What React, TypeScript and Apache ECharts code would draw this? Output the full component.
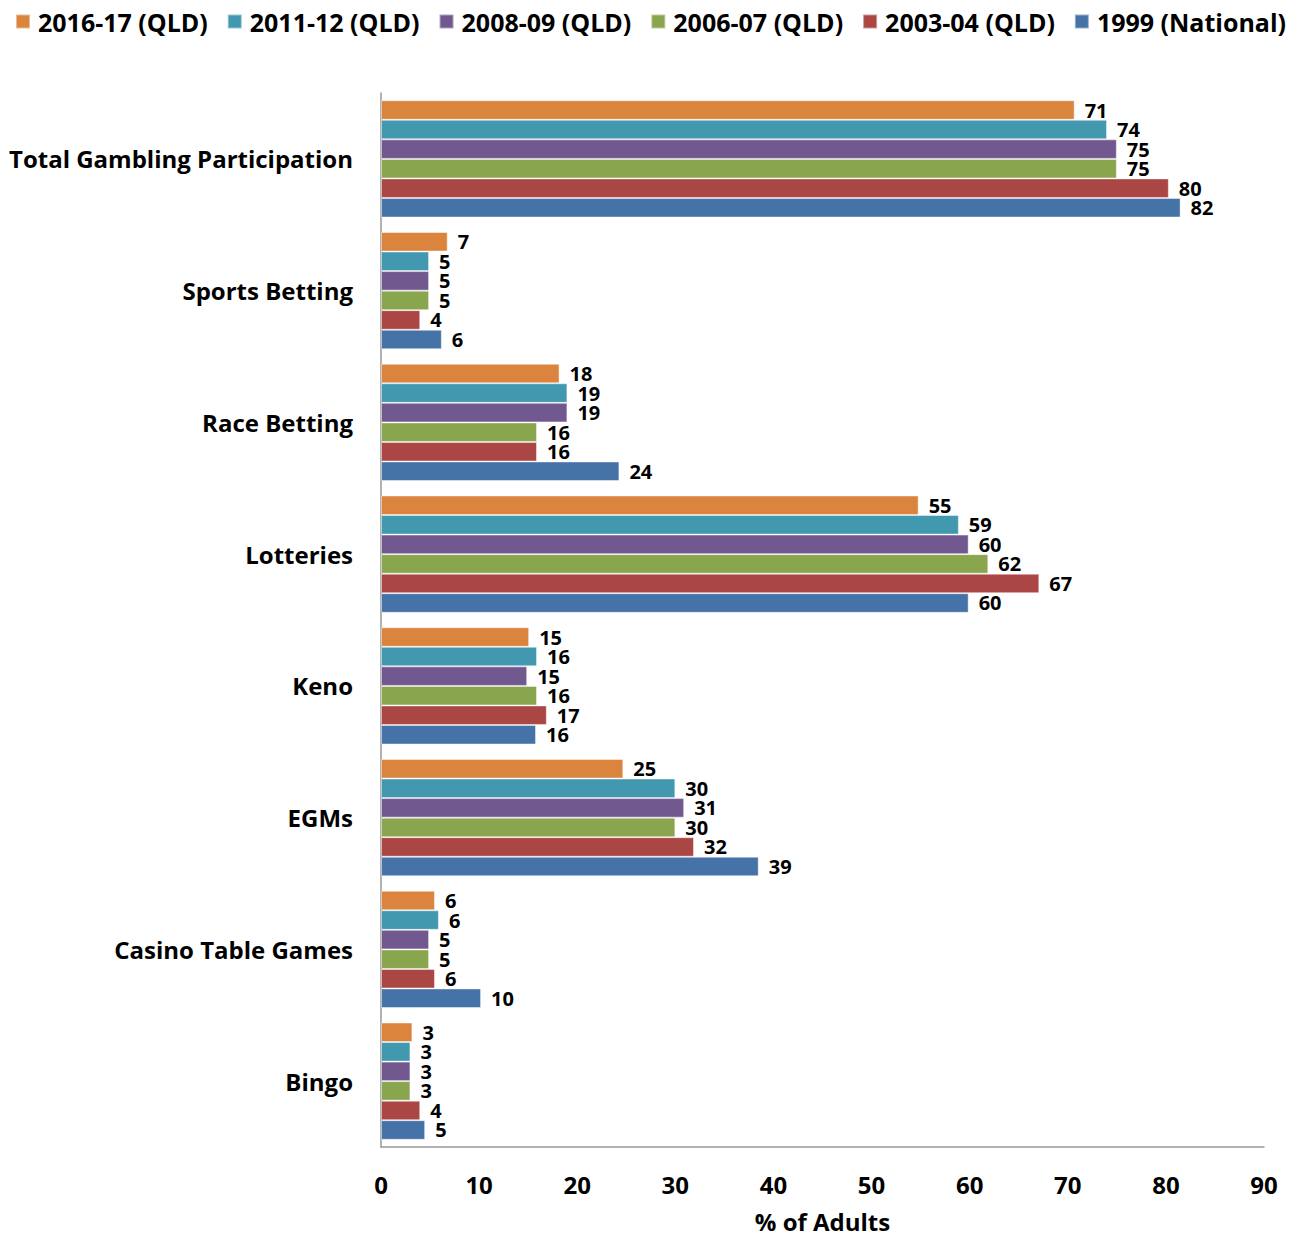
import React, { useEffect, useRef } from "react";
import * as echarts from "echarts";

const categories = [
  "Total Gambling Participation",
  "Sports Betting",
  "Race Betting",
  "Lotteries",
  "Keno",
  "EGMs",
  "Casino Table Games",
  "Bingo",
];

const seriesNames = [
  "2016-17 (QLD)",
  "2011-12 (QLD)",
  "2008-09 (QLD)",
  "2006-07 (QLD)",
  "2003-04 (QLD)",
  "1999 (National)",
];

const colors = ["#DB843D", "#4198AF", "#71588F", "#89A54E", "#AA4643", "#4572A7"];

const v2016 = [70.7, 6.8, 18.2, 54.8, 15.1, 24.7, 5.5, 3.2];
const v2011 = [74.0, 4.9, 19.0, 58.9, 15.9, 30.0, 5.9, 3.0];
const v2008 = [75.0, 4.9, 19.0, 59.9, 14.9, 30.9, 4.9, 3.0];
const v2006 = [75.0, 4.9, 15.9, 61.9, 15.9, 30.0, 4.9, 3.0];
const v2003 = [80.3, 4.0, 15.9, 67.1, 16.9, 31.9, 5.5, 4.0];
const v1999 = [81.5, 6.2, 24.3, 59.9, 15.8, 38.5, 10.2, 4.5];

const seriesValues = [v2016, v2011, v2008, v2006, v2003, v1999];

const xTicks = { min: 0, max: 90, interval: 10 };

const FONT = "'Open Sans'";

export default function App() {
  const ref = useRef<HTMLDivElement>(null);
  useEffect(() => {
    if (!ref.current) return;
    const chart = echarts.init(ref.current, undefined, { renderer: "svg" });
    chart.setOption({
      animation: false,
      textStyle: { fontFamily: FONT },
      legend: {
        left: 10,
        top: 4,
        itemWidth: 14,
        itemHeight: 14,
        itemGap: 19,
        icon: "rect",
        textStyle: { fontFamily: FONT, fontWeight: "bold", fontSize: 25, color: "#000", padding: [0, 0, 0, 3] },
        data: seriesNames,
      },
      grid: { left: 381, right: 40, top: 93, bottom: 77, containLabel: false },
      xAxis: {
        type: "value",
        min: xTicks.min,
        max: xTicks.max,
        interval: xTicks.interval,
        name: "% of Adults",
        nameLocation: "middle",
        nameGap: 62,
        nameTextStyle: { fontFamily: FONT, fontWeight: "bold", fontSize: 24, color: "#000" },
        axisLine: { show: true, lineStyle: { color: "#999", width: 1.5 } },
        axisTick: { show: false },
        splitLine: { show: false },
        axisLabel: { fontFamily: FONT, fontWeight: "bold", fontSize: 24, color: "#000", margin: 25 },
      },
      yAxis: {
        type: "category",
        inverse: true,
        data: categories,
        axisLine: { show: true, lineStyle: { color: "#999", width: 1.5 } },
        axisTick: { show: false },
        axisLabel: { fontFamily: FONT, fontWeight: "bold", fontSize: 24, color: "#000", margin: 28 },
      },
      series: seriesNames.map((name, i) => ({
        name,
        type: "bar",
        data: seriesValues[i],
        barGap: "0%",
        barCategoryGap: "11%",
        itemStyle: { color: colors[i], borderColor: "rgba(255,255,255,0.45)", borderWidth: 1 },
        label: {
          show: true,
          position: "right",
          distance: 10,
          fontFamily: FONT,
          fontWeight: "bold",
          fontSize: 20,
          color: "#000",
          formatter: (p: any) => String(Math.round(p.value)),
        },
      })),
    });
    return () => chart.dispose();
  }, []);
  return (
    <div
      ref={ref}
      style={{ position: "absolute", left: 0, top: 0, width: 1304, height: 1238, background: "#fff" }}
    />
  );
}
